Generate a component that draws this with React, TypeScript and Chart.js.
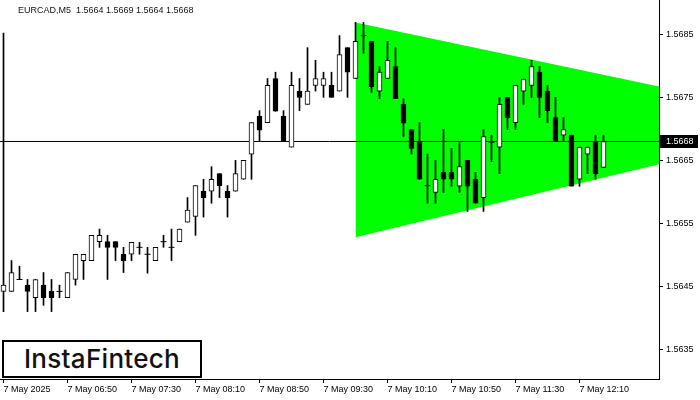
import React, { useEffect, useRef } from "react";
import { Chart, registerables } from "chart.js";

Chart.register(...registerables);

const headerText = "EURCAD,M5  1.5664 1.5669 1.5664 1.5668";
const logoText = "InstaFintech";

const timeLabels = [
  "7 May 2025", "7 May 06:50", "7 May 07:30", "7 May 08:10", "7 May 08:50",
  "7 May 09:30", "7 May 10:10", "7 May 10:50", "7 May 11:30", "7 May 12:10",
];
const candlesPerLabel = 8;

const opens = [
  1.56442, 1.56442, 1.56461, 1.56452, 1.56432, 1.56452, 1.56442, 1.56442, 1.56432, 1.56461,
  1.56491, 1.56491, 1.56521, 1.56521, 1.56521, 1.56501, 1.56501, 1.56512, 1.56501, 1.56491,
  1.56521, 1.56512, 1.56521, 1.56552, 1.56561, 1.56601, 1.56601, 1.56629, 1.56601, 1.56601,
  1.56620, 1.56660, 1.56720, 1.56710, 1.56780, 1.56720, 1.56671, 1.56760, 1.56739, 1.56769,
  1.56769, 1.56769, 1.56760, 1.56829, 1.56780, 1.56848, 1.56839, 1.56760, 1.56780, 1.56799,
  1.56739, 1.56699, 1.56679, 1.56610, 1.56599, 1.56631, 1.56631, 1.56609, 1.56650, 1.56620,
  1.56591, 1.56679, 1.56671, 1.56750, 1.56710, 1.56760, 1.56769, 1.56790, 1.56760, 1.56718,
  1.56690, 1.56690, 1.56620, 1.56660, 1.56680, 1.56639,
];
const highs = [
  1.56852, 1.56491, 1.56482, 1.56461, 1.56461, 1.56472, 1.56461, 1.56452, 1.56472, 1.56501,
  1.56501, 1.56531, 1.56541, 1.56531, 1.56521, 1.56512, 1.56520, 1.56520, 1.56512, 1.56512,
  1.56531, 1.56541, 1.56541, 1.56591, 1.56610, 1.56620, 1.56640, 1.56629, 1.56610, 1.56650,
  1.56650, 1.56710, 1.56729, 1.56780, 1.56790, 1.56729, 1.56790, 1.56780, 1.56829, 1.56809,
  1.56790, 1.56790, 1.56848, 1.56829, 1.56869, 1.56869, 1.56839, 1.56799, 1.56839, 1.56829,
  1.56748, 1.56699, 1.56710, 1.56660, 1.56650, 1.56699, 1.56669, 1.56679, 1.56650, 1.56631,
  1.56699, 1.56690, 1.56750, 1.56750, 1.56769, 1.56779, 1.56809, 1.56799, 1.56769, 1.56750,
  1.56718, 1.56690, 1.56671, 1.56671, 1.56690, 1.56690,
];
const lows = [
  1.56410, 1.56442, 1.56461, 1.56410, 1.56410, 1.56420, 1.56410, 1.56432, 1.56432, 1.56452,
  1.56461, 1.56491, 1.56512, 1.56461, 1.56491, 1.56472, 1.56491, 1.56501, 1.56471, 1.56491,
  1.56512, 1.56491, 1.56521, 1.56552, 1.56531, 1.56560, 1.56582, 1.56591, 1.56560, 1.56601,
  1.56620, 1.56620, 1.56680, 1.56710, 1.56728, 1.56680, 1.56671, 1.56729, 1.56739, 1.56760,
  1.56750, 1.56750, 1.56760, 1.56750, 1.56780, 1.56820, 1.56758, 1.56748, 1.56780, 1.56748,
  1.56688, 1.56660, 1.56620, 1.56582, 1.56582, 1.56599, 1.56609, 1.56599, 1.56569, 1.56582,
  1.56569, 1.56648, 1.56629, 1.56699, 1.56699, 1.56739, 1.56750, 1.56718, 1.56710, 1.56680,
  1.56680, 1.56609, 1.56609, 1.56629, 1.56620, 1.56639,
];
const closes = [
  1.56452, 1.56472, 1.56461, 1.56442, 1.56461, 1.56432, 1.56432, 1.56442, 1.56472, 1.56501,
  1.56501, 1.56531, 1.56531, 1.56512, 1.56512, 1.56491, 1.56520, 1.56512, 1.56501, 1.56512,
  1.56521, 1.56512, 1.56541, 1.56571, 1.56610, 1.56591, 1.56620, 1.56610, 1.56591, 1.56629,
  1.56650, 1.56710, 1.56698, 1.56769, 1.56728, 1.56680, 1.56769, 1.56750, 1.56760, 1.56780,
  1.56780, 1.56750, 1.56818, 1.56790, 1.56839, 1.56848, 1.56767, 1.56790, 1.56809, 1.56748,
  1.56709, 1.56669, 1.56620, 1.56610, 1.56620, 1.56620, 1.56620, 1.56640, 1.56609, 1.56582,
  1.56688, 1.56679, 1.56739, 1.56718, 1.56769, 1.56779, 1.56799, 1.56750, 1.56729, 1.56680,
  1.56699, 1.56609, 1.56671, 1.56671, 1.56629, 1.56680,
];

const priceTicks = [1.5635, 1.5645, 1.5655, 1.5665, 1.5675, 1.5685];
const currentPrice = 1.5668;

// symmetrical triangle pattern (candle index, price)
const triangleX = [44, 82];
const triangleTop = [1.56869, 1.56767];
const triangleBottom = [1.56528, 1.56644];

const xMin = -0.4375;
const xMax = 81.9375;
const yMin = 1.56303;
const yMax = 1.569046;

const FONT = "'Liberation Sans', Arial, sans-serif";

export default function App() {
  const canvasRef = useRef<HTMLCanvasElement | null>(null);

  useEffect(() => {
    document.body.style.margin = "0";
    const canvas = canvasRef.current;
    if (!canvas) return;

    const idx = opens.map((_, i) => i);
    const wickData = idx.map((i) => ({ x: i, y: [lows[i], highs[i]] }));
    const bodyIdx = idx.filter((i) => opens[i] !== closes[i]);
    const bodyData = bodyIdx.map((i) => ({ x: i, y: [opens[i], closes[i]] }));
    const bodyColors = bodyIdx.map((i) => (closes[i] > opens[i] ? "#ffffff" : "#000000"));
    const dojiData = idx.filter((i) => opens[i] === closes[i]).map((i) => ({ x: i, y: opens[i] }));

    const priceTag = {
      id: "priceTag",
      afterDraw(chart: any) {
        const { ctx, chartArea, scales } = chart;
        const py = scales.y.getPixelForValue(currentPrice);
        ctx.save();
        ctx.fillStyle = "#000";
        ctx.fillRect(chartArea.right + 1, Math.round(py) - 6, 38, 13);
        ctx.fillStyle = "#fff";
        ctx.font = `9px ${FONT}`;
        ctx.textBaseline = "middle";
        ctx.textAlign = "left";
        ctx.fillText(currentPrice.toFixed(4), chartArea.right + 7, Math.round(py) + 0.5);
        ctx.restore();
      },
    };

    const chart = new Chart(canvas, {
      type: "bar",
      data: {
        datasets: [
          {
            type: "line",
            data: triangleX.map((x, k) => ({ x, y: triangleTop[k] })),
            borderWidth: 0,
            pointRadius: 0,
            backgroundColor: "#00ff00",
            borderColor: "#00ff00",
            fill: "+1",
            order: 10,
          } as any,
          {
            type: "line",
            data: triangleX.map((x, k) => ({ x, y: triangleBottom[k] })),
            borderWidth: 0,
            pointRadius: 0,
            borderColor: "#00ff00",
            fill: false,
            order: 9,
          } as any,
          {
            type: "line",
            data: [
              { x: xMin, y: currentPrice },
              { x: xMax, y: currentPrice },
            ],
            borderColor: "#000",
            borderWidth: 1,
            pointRadius: 0,
            fill: false,
            order: 8,
          } as any,
          {
            type: "bar",
            data: wickData,
            backgroundColor: "#000",
            borderWidth: 0,
            barThickness: 1,
            grouped: false,
            order: 3,
          } as any,
          {
            type: "bar",
            data: bodyData,
            backgroundColor: bodyColors,
            borderColor: "#000",
            borderWidth: 1,
            borderSkipped: false,
            barThickness: 5,
            grouped: false,
            order: 2,
          } as any,
          {
            type: "scatter",
            data: dojiData,
            pointStyle: "line",
            pointRadius: 3,
            borderColor: "#000",
            borderWidth: 1,
            order: 1,
          } as any,
        ],
      },
      options: {
        animation: false,
        responsive: false,
        devicePixelRatio: 1,
        layout: { padding: 0, autoPadding: false },
        plugins: { legend: { display: false }, tooltip: { enabled: false } },
        scales: {
          x: {
            type: "linear",
            position: "bottom",
            offset: false,
            min: xMin,
            max: xMax,
            afterBuildTicks: (s: any) => {
              s.ticks = timeLabels.map((_, k) => ({ value: k * candlesPerLabel }));
            },
            afterFit: (s: any) => {
              s.height = 21;
              s.paddingLeft = 0;
              s.paddingRight = 0;
              s.paddingTop = 0;
              s.paddingBottom = 0;
            },
            ticks: {
              callback: (v: any) => timeLabels[Math.round(Number(v) / candlesPerLabel)] ?? "",
              align: "start",
              maxRotation: 0,
              autoSkip: false,
              color: "#000",
              padding: 1,
              font: { family: FONT, size: 9 },
            },
            grid: { drawOnChartArea: false, drawTicks: true, tickLength: 4, color: "#000", offset: false },
            border: { display: true, color: "#000", width: 1 },
          },
          y: {
            type: "linear",
            position: "right",
            min: yMin,
            max: yMax,
            afterBuildTicks: (s: any) => {
              s.ticks = priceTicks.map((v) => ({ value: v }));
            },
            afterFit: (s: any) => {
              s.width = 41;
              s.paddingLeft = 0;
              s.paddingRight = 0;
              s.paddingTop = 0;
              s.paddingBottom = 0;
            },
            ticks: {
              callback: (v: any) => Number(v).toFixed(4),
              color: "#000",
              padding: 3,
              font: { family: FONT, size: 9 },
            },
            grid: { drawOnChartArea: false, drawTicks: true, tickLength: 4, color: "#000" },
            border: { display: true, color: "#000", width: 1 },
          },
        },
      } as any,
      plugins: [priceTag],
    });

    return () => chart.destroy();
  }, []);

  return (
    <div style={{ position: "absolute", left: 0, top: 0, width: 700, height: 400, background: "#fff" }}>
      <canvas ref={canvasRef} width={700} height={400} style={{ display: "block" }} />
      <div
        style={{
          position: "absolute",
          left: 18,
          top: 5,
          font: `9px ${FONT}`,
          color: "#111",
          whiteSpace: "pre",
        }}
      >
        {headerText}
      </div>
      <div
        style={{
          position: "absolute",
          left: 2,
          top: 340,
          width: 196,
          height: 34,
          border: "2px solid #000",
          background: "#fff",
          font: "500 26px Inter, sans-serif",
          lineHeight: "34px",
          textAlign: "center",
          color: "#111",
          letterSpacing: "0.3px",
        }}
      >
        {logoText}
      </div>
    </div>
  );
}
